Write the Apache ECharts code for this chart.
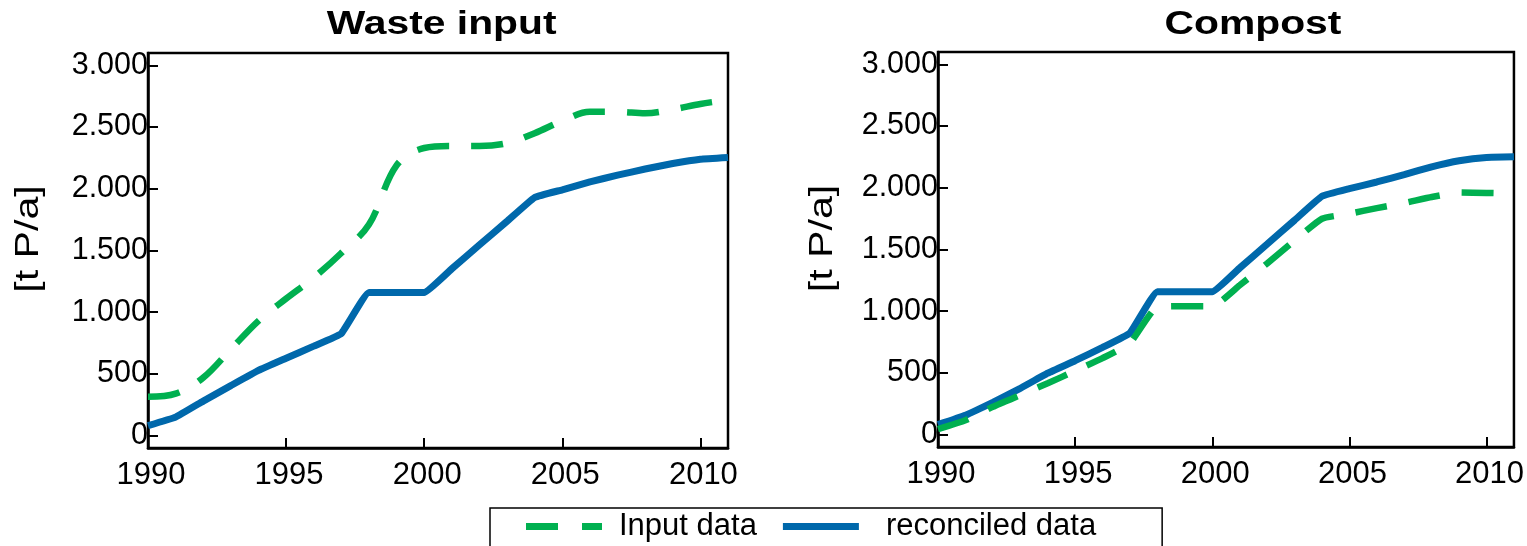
<!DOCTYPE html>
<html><head><meta charset="utf-8">
<script src="https://cdn.jsdelivr.net/npm/echarts@6/dist/echarts.min.js"></script>
<style>html,body{margin:0;padding:0;background:#fff}#c{width:1527px;height:546px}</style>
</head><body><div id="c"></div>
<script>
const years = [1990,1991,1992,1993,1994,1995,1996,1997,1998,1999,2000,2001,2002,2003,2004,2005,2006,2007,2008,2009,2010,2011];
const wasteInputData   = [315,340,470,700,930,1110,1280,1480,1710,2190,2330,2346,2346,2370,2450,2550,2624,2624,2612,2643,2687,2720];
const wasteReconciled  = [81,150,280,405,528,627,725,828,1160,1160,1160,1352,1545,1737,1930,1992,2056,2110,2160,2205,2240,2254];
const compostInputData = [45,117,226,321,416,517,620,742,1035,1040,1040,1210,1387,1572,1749,1790,1835,1876,1925,1961,1958,1953];
const compostReconciled= [82,158,262,375,498,599,707,824,1158,1158,1158,1350,1543,1737,1931,1993,2047,2107,2170,2219,2246,2251];
const yTicks = [0,500,1000,1500,2000,2500,3000];
const xTicks = [1990,1995,2000,2005,2010];
const panelTitles = ['Waste input','Compost'];
const yAxisTitle = '[t P/a]';
const seriesNames = ['Input data','reconciled data'];

const GREEN = '#00B050', BLUE = '#0068AB';
const FONT = '"Liberation Sans", Arial, sans-serif';
function fmt(v){ return v >= 1000 ? Math.floor(v/1000) + '.' + String(v%1000).padStart(3,'0') : String(v); }
function pairs(arr){ return years.map((y,i)=>[y, arr[i]]); }

const grids = [
  {left:148, top:53, width:580, height:395},
  {left:938, top:52, width:580, height:395}
].map(g => Object.assign({show:true, borderColor:'#000', borderWidth:2.5, backgroundColor:'transparent'}, g));

function xAx(i){ return {
  type:'value', gridIndex:i, min:1990, max:2011,
  axisLine:{show:true, onZero:false, lineStyle:{color:'#000', width:2.5}},
  axisTick:{show:true, inside:true, length:10, lineStyle:{color:'#000', width:2}, customValues:xTicks},
  axisLabel:{customValues:xTicks, formatter:function(v){ return String(v); }, fontSize:31, fontFamily:FONT, color:'#000', margin:12, padding:[0,0,0,6]},
  splitLine:{show:false}
};}
function yAx(i){ return {
  type:'value', gridIndex:i, min:-100, max:3100,
  axisLine:{show:true, onZero:false, lineStyle:{color:'#000', width:2.5}},
  axisTick:{show:true, inside:true, length:10, lineStyle:{color:'#000', width:2}, customValues:yTicks},
  axisLabel:{customValues:yTicks, formatter:fmt, fontSize:30.5, fontFamily:FONT, color:'#000', margin:0, padding:[18,0,0,0]},
  splitLine:{show:false}
};}

function lineSeries(name, data, idx, isInput){
  return {
    type:'line', name:name, xAxisIndex:idx, yAxisIndex:idx, data:pairs(data),
    symbol:'none', showSymbol:false, smooth: isInput ? (idx===0 ? 0.35 : 0.15) : 0.1,
    color: isInput ? GREEN : BLUE,
    lineStyle:{color: isInput ? GREEN : BLUE, width: isInput ? 6.5 : 7, type: isInput ? [32,22] : 'solid', cap:'butt'},
    z: isInput ? 3 : 2, animation:false
  };
}

const option = {
  backgroundColor:'#fff',
  animation:false,
  grid: grids,
  xAxis:[xAx(0), xAx(1)],
  yAxis:[yAx(0), yAx(1)],
  series:[
    lineSeries(seriesNames[1], wasteReconciled, 0, false),
    lineSeries(seriesNames[0], wasteInputData, 0, true),
    lineSeries(seriesNames[1], compostReconciled, 1, false),
    lineSeries(seriesNames[0], compostInputData, 1, true)
  ],
  legend:{
    data:[
      {name:seriesNames[0], icon:'path://M0,0h32v7h-32z M56,0h20v7h-20z', itemStyle:{color:GREEN, borderWidth:0}},
      {name:seriesNames[1], icon:'path://M0,0h76v7h-76z', itemStyle:{color:BLUE, borderWidth:0}}
    ],
    left:490, top:508, orient:'horizontal',
    padding:[3,66,30,36],
    itemWidth:76, itemHeight:7, itemGap:26,
    borderColor:'#000', borderWidth:1.5,
    formatter: function(n){ return n === 'reconciled data' ? '{r|' + n + '}' : n; },
    textStyle:{fontSize:31, fontFamily:FONT, color:'#000', padding:[0,0,0,12],
      rich:{r:{fontSize:31, fontFamily:FONT, color:'#000', padding:[0,0,0,10]}}}
  },
  graphic:[
    {type:'text', x:441.7, y:25, scaleX:1.2, style:{text:panelTitles[0], font:'bold 34px ' + FONT, fill:'#000', align:'center', verticalAlign:'middle'}},
    {type:'text', x:1253, y:25, scaleX:1.2, style:{text:panelTitles[1], font:'bold 34px ' + FONT, fill:'#000', align:'center', verticalAlign:'middle'}},
    {type:'text', x:29, y:239, rotation:Math.PI/2, scaleX:1.21, style:{text:yAxisTitle, font:'34px ' + FONT, fill:'#000', align:'center', verticalAlign:'middle'}},
    {type:'text', x:823, y:238.5, rotation:Math.PI/2, scaleX:1.21, style:{text:yAxisTitle, font:'34px ' + FONT, fill:'#000', align:'center', verticalAlign:'middle'}}
  ]
};
const chart = echarts.init(document.getElementById('c'), null, {renderer:'canvas'});
chart.setOption(option);
</script></body></html>
